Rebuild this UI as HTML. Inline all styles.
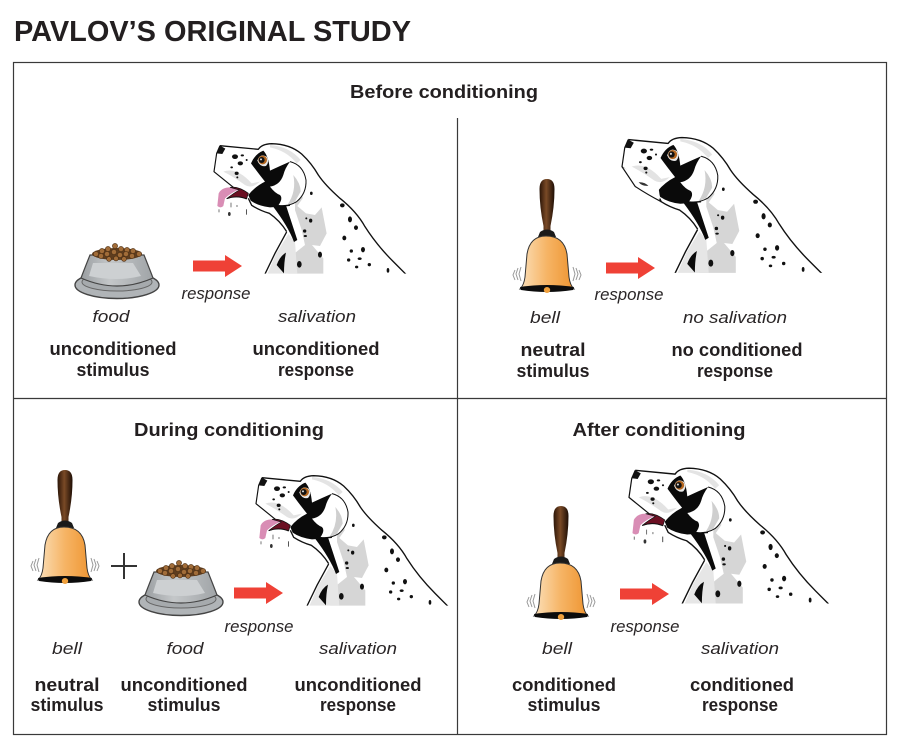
<!DOCTYPE html>
<html><head><meta charset="utf-8"><style>
html,body{margin:0;padding:0;background:#fff}
svg{display:block}
text{font-family:"Liberation Sans",sans-serif;fill:#231f20;text-anchor:middle}
.b{font-weight:bold;font-size:18px}
.i{font-style:italic;font-size:17px;fill:#2a2627}
</style></head><body>
<svg width="901" height="754" viewBox="0 0 901 754" xmlns="http://www.w3.org/2000/svg">
<defs>
<linearGradient id="bg" x1="0" x2="1"><stop offset="0" stop-color="#fbe0ba"/><stop offset=".5" stop-color="#f6b465"/><stop offset="1" stop-color="#ee9430"/></linearGradient>
<linearGradient id="hg" x1="0" x2="1"><stop offset="0" stop-color="#2a1508"/><stop offset=".45" stop-color="#7a4a26"/><stop offset="1" stop-color="#1e0e05"/></linearGradient>
<linearGradient id="bw" x1="0" x2="1"><stop offset="0" stop-color="#9a9ea1"/><stop offset=".4" stop-color="#c4c7c9"/><stop offset="1" stop-color="#a0a4a7"/></linearGradient>
<clipPath id="dc"><rect x="90" y="20" width="600" height="411"/></clipPath>

<g id="dog" clip-path="url(#dc)">
<path d="M120 47 L235 58 Q245 42 275 41 Q330 42 365 72 Q395 100 415 135 Q435 165 480 205 Q530 245 555 290 Q590 345 640 395 L680 435 L255 435 Q280 370 318 305 Q295 270 265 250 Q235 240 215 225 L205 200 L160 172 L102 125 L110 70Z" fill="#fff"/>
<path d="M345 135 Q365 160 368 205 L352 228 L378 250 L405 255 L425 232 L440 310 L420 348 L396 345 L430 385 L430 432 L325 432 L325 385 L375 345 L365 300 L345 240Z" fill="#d6d6d6"/>
<path d="M325 312 L345 335 L352 432 L262 432 L288 372Z" fill="#e6e6e6"/>
<path d="M130 125 Q170 110 215 160 L240 155 Q215 178 195 165 Q160 140 130 125Z" fill="#e3e3e3"/>
<path d="M270 45 Q330 50 362 90 L350 100 Q320 62 270 52Z" fill="#e4e4e4"/>
<path d="M255 432 L285 370 L320 306" fill="none" stroke="#111" stroke-width="4"/>
<path d="M120 47 L235 58 Q245 42 275 41 Q330 42 365 72 Q395 100 415 135 Q435 165 480 205 Q530 245 555 290 Q590 345 640 395 L680 435" fill="none" stroke="#111" stroke-width="4" stroke-linejoin="round"/>
<path d="M120 47 L110 70 L102 125 L160 172" fill="none" stroke="#111" stroke-width="3.5" stroke-linejoin="round"/>
<path d="M205 205 L215 226 Q240 242 268 250 Q300 272 320 305" fill="none" stroke="#111" stroke-width="4"/>
<path d="M120 47 L136 56 L127 72 L110 70Z" fill="#111"/>
<path d="M213 100 Q225 72 250 62 Q266 78 270 122 Q300 108 330 95 L320 150 L330 228 L270 232 Q235 228 212 212 L205 195 Q225 170 255 155 Q235 130 213 100Z" fill="#0a0a0a"/>
<path d="M330 95 Q370 105 378 150 Q380 190 350 215 Q325 230 295 226 Q310 205 300 195 Q285 190 270 170 Q300 165 310 135 Q315 115 330 95Z" fill="#fff"/>
<path d="M330 95 Q370 105 378 150 Q380 190 350 215 Q325 230 295 226" fill="none" stroke="#111" stroke-width="3"/>
<path d="M340 135 Q362 160 362 185 L345 215 L322 225 Q350 185 340 135Z" fill="#cfcfcf"/>
<path d="M232 92 Q240 68 260 80 Q270 95 258 108 Q240 112 232 92Z" fill="#e8e8e8"/>
<circle cx="248" cy="90" r="13" fill="#b4661e"/><circle cx="245" cy="90" r="9" fill="#111"/><circle cx="243" cy="88" r="3" fill="#ddd"/>
<path d="M278 228 L318 226 L352 330 L342 336 Q325 290 278 228Z" fill="#0a0a0a"/>
<path d="M318 368 Q300 378 290 405 L312 430 Q312 395 318 368Z" fill="#0a0a0a"/>
<g fill="#111">
<ellipse cx="165" cy="80" rx="9" ry="7"/><ellipse cx="181" cy="100" rx="8" ry="6"/><ellipse cx="187" cy="76" rx="5" ry="3"/><ellipse cx="155" cy="112" rx="4" ry="3"/><ellipse cx="170" cy="130" rx="6" ry="5"/><ellipse cx="172" cy="142" rx="3" ry="3"/><ellipse cx="200" cy="90" rx="3" ry="3"/>
<ellipse cx="394" cy="190" rx="4" ry="5"/><ellipse cx="487" cy="226" rx="7" ry="6"/><ellipse cx="510" cy="268" rx="6" ry="9"/><ellipse cx="528" cy="293" rx="6" ry="7"/><ellipse cx="493" cy="324" rx="6" ry="7"/><ellipse cx="549" cy="359" rx="6" ry="8"/><ellipse cx="514" cy="363" rx="5" ry="5"/><ellipse cx="506" cy="390" rx="5" ry="5"/><ellipse cx="539" cy="386" rx="6" ry="4"/><ellipse cx="568" cy="404" rx="5" ry="5"/><ellipse cx="530" cy="411" rx="5" ry="4"/><ellipse cx="624" cy="421" rx="4" ry="7"/><ellipse cx="420" cy="374" rx="6" ry="9"/><ellipse cx="358" cy="403" rx="7" ry="10"/><ellipse cx="392" cy="272" rx="5" ry="6"/><ellipse cx="379" cy="265" rx="3" ry="3"/><ellipse cx="374" cy="303" rx="5" ry="5"/><ellipse cx="376" cy="318" rx="5" ry="3"/>
</g>
</g>

<g id="mouth">
<path d="M150 172 Q125 172 116 190 L112 228 Q122 236 130 228 L135 205 Q150 190 178 178Z" fill="#d98db5"/>
<path d="M150 172 Q175 168 205 190 L200 206 Q170 195 140 206 Q160 190 178 180Z" fill="#6b0f22" stroke="#111" stroke-width="2"/>
<path d="M140 206 Q170 195 200 207" fill="none" stroke="#111" stroke-width="3"/>
<g fill="#333"><ellipse cx="148" cy="252" rx="4" ry="6"/><rect x="116" y="238" width="2" height="9"/><rect x="152" y="218" width="2" height="14"/><rect x="198" y="238" width="2.5" height="16"/><rect x="170" y="225" width="2" height="6"/></g>
</g>

<g id="closed">
<path d="M102 125 L140 182 L212 218 L208 190 L160 160Z" fill="#fff"/>
<path d="M102 125 L140 182 Q175 205 215 226" fill="none" stroke="#111" stroke-width="3.5"/>
<path d="M150 170 Q165 168 178 180 Q160 182 150 170Z" fill="#333"/>
</g>

<g id="bell">
<path d="M-7.5 -103 Q-7.5 -113 0 -113 Q7.5 -113 7.5 -103 Q7.5 -85 3.5 -66 L3.5 -60 L-3.5 -60 L-3.5 -66 Q-7.5 -85 -7.5 -103Z" fill="url(#hg)"/>
<path d="M-7 -60 Q0 -65 7 -60 L9 -55 L-9 -55Z" fill="#1a1a1a"/>
<path d="M-1 -56 Q17 -56 20 -38 L22 -15 Q23 -7 27 -3 L-27 -3 Q-23 -7 -22 -15 L-20 -38 Q-17 -56 -1 -56Z" fill="url(#bg)" stroke="#333" stroke-width="1"/>
<path d="M-27 -5 Q0 -9 27 -5 L26 -2 Q0 2 -26 -2Z" fill="#0c0c0c"/>
<ellipse cx="0" cy="-2" rx="3.2" ry="3" fill="#f0a03c"/>
<path d="M-26 -25 l-2 7 l2 7 M-29 -24 l-2 6 l2 6 M-32 -22 l-2 5 l2 5 M26 -25 l2 7 l-2 7 M29 -24 l2 6 l-2 6 M32 -22 l2 5 l-2 5" fill="none" stroke="#999" stroke-width="1"/>
</g>

<g id="bowl">
<ellipse cx="0" cy="27" rx="42" ry="13.5" fill="#b0b4b7" stroke="#444" stroke-width="1.4"/>
<ellipse cx="0" cy="24" rx="35" ry="9" fill="#a6aaad" stroke="#666" stroke-width="1"/>
<path d="M-27 -3 Q-33 12 -36 20 Q0 36 36 20 Q33 12 27 -3Z" fill="url(#bw)" stroke="#444" stroke-width="1.2"/>
<path d="M-24 5 L16 5 L24 18 Q0 24 -28 18Z" fill="#cdd0d2"/>
<ellipse cx="0" cy="-4" rx="25" ry="6" fill="#5f3d1e"/>
<g fill="#a16c38" stroke="#4c2f15" stroke-width=".6"><circle cx="-21" cy="-4" r="2.6"/><circle cx="-15" cy="-7" r="2.6"/><circle cx="-9" cy="-9" r="2.6"/><circle cx="-2" cy="-12" r="2.6"/><circle cx="4" cy="-9" r="2.6"/><circle cx="10" cy="-8" r="2.6"/><circle cx="16" cy="-7" r="2.6"/><circle cx="22" cy="-4" r="2.6"/><circle cx="-16" cy="-2" r="2.6"/><circle cx="-10" cy="-4" r="2.6"/><circle cx="-3" cy="-6" r="2.6"/><circle cx="3" cy="-3" r="2.6"/><circle cx="9" cy="-4" r="2.6"/><circle cx="15" cy="-2" r="2.6"/><circle cx="-1" cy="0.5" r="2.4"/><circle cx="-8" cy="1" r="2.4"/><circle cx="7" cy="1" r="2.4"/></g>
</g>

<path id="arrow" d="M0 -5.5 H32 V-11 L49 0 L32 11 V5.5 H0Z" fill="#ef4136"/>
</defs>

<text x="14" y="41" style="font-weight:bold;font-size:29px;text-anchor:start" textLength="397" lengthAdjust="spacingAndGlyphs">PAVLOV’S ORIGINAL STUDY</text>

<rect x="13.5" y="62.5" width="873" height="672" fill="none" stroke="#3a3a3a" stroke-width="1.2"/>
<path d="M13 398.5H887M457.5 118V735" stroke="#3a3a3a" stroke-width="1.2" fill="none"/>

<text class="b" x="444" y="98" textLength="188" lengthAdjust="spacingAndGlyphs">Before conditioning</text>
<text class="b" x="229" y="436" textLength="190" lengthAdjust="spacingAndGlyphs">During conditioning</text>
<text class="b" x="659" y="436" textLength="173" lengthAdjust="spacingAndGlyphs">After conditioning</text>

<g transform="translate(180,130) scale(.3333)"><use href="#dog"/><use href="#mouth"/></g>
<g transform="translate(586.6,123.3) scale(.347)"><use href="#dog"/><use href="#closed"/></g>
<g transform="translate(222,462) scale(.3333)"><use href="#dog"/><use href="#mouth"/></g>
<g transform="translate(593.6,454) scale(.347)"><use href="#dog"/><use href="#mouth"/></g>

<use href="#bell" transform="translate(547,292)"/>
<use href="#bell" transform="translate(65,583)"/>
<use href="#bell" transform="translate(561,619)"/>

<use href="#bowl" transform="translate(117,258)"/>
<use href="#bowl" transform="translate(181,575)"/>

<use href="#arrow" x="193" y="266"/>
<use href="#arrow" x="606" y="268"/>
<use href="#arrow" x="234" y="593"/>
<use href="#arrow" x="620" y="594"/>

<path d="M124 553V579M111 566H137" stroke="#333" stroke-width="2" fill="none"/>

<text class="i" x="216" y="299" textLength="69" lengthAdjust="spacingAndGlyphs">response</text>
<text class="i" x="111" y="322" textLength="37" lengthAdjust="spacingAndGlyphs">food</text>
<text class="i" x="317" y="322" textLength="78" lengthAdjust="spacingAndGlyphs">salivation</text>
<text class="i" x="629" y="300" textLength="69" lengthAdjust="spacingAndGlyphs">response</text>
<text class="i" x="545" y="323" textLength="30" lengthAdjust="spacingAndGlyphs">bell</text>
<text class="i" x="735" y="323" textLength="104" lengthAdjust="spacingAndGlyphs">no salivation</text>
<text class="i" x="259" y="632" textLength="69" lengthAdjust="spacingAndGlyphs">response</text>
<text class="i" x="67" y="654" textLength="30" lengthAdjust="spacingAndGlyphs">bell</text>
<text class="i" x="185" y="654" textLength="37" lengthAdjust="spacingAndGlyphs">food</text>
<text class="i" x="358" y="654" textLength="78" lengthAdjust="spacingAndGlyphs">salivation</text>
<text class="i" x="645" y="632" textLength="69" lengthAdjust="spacingAndGlyphs">response</text>
<text class="i" x="557" y="654" textLength="30" lengthAdjust="spacingAndGlyphs">bell</text>
<text class="i" x="740" y="654" textLength="78" lengthAdjust="spacingAndGlyphs">salivation</text>

<text class="b" x="113" y="355" textLength="127" lengthAdjust="spacingAndGlyphs">unconditioned</text>
<text class="b" x="113" y="376" textLength="73" lengthAdjust="spacingAndGlyphs">stimulus</text>
<text class="b" x="316" y="355" textLength="127" lengthAdjust="spacingAndGlyphs">unconditioned</text>
<text class="b" x="316" y="376" textLength="76" lengthAdjust="spacingAndGlyphs">response</text>
<text class="b" x="553" y="356" textLength="65" lengthAdjust="spacingAndGlyphs">neutral</text>
<text class="b" x="553" y="377" textLength="73" lengthAdjust="spacingAndGlyphs">stimulus</text>
<text class="b" x="737" y="356" textLength="131" lengthAdjust="spacingAndGlyphs">no conditioned</text>
<text class="b" x="735" y="377" textLength="76" lengthAdjust="spacingAndGlyphs">response</text>
<text class="b" x="67" y="691" textLength="65" lengthAdjust="spacingAndGlyphs">neutral</text>
<text class="b" x="67" y="711" textLength="73" lengthAdjust="spacingAndGlyphs">stimulus</text>
<text class="b" x="184" y="691" textLength="127" lengthAdjust="spacingAndGlyphs">unconditioned</text>
<text class="b" x="184" y="711" textLength="73" lengthAdjust="spacingAndGlyphs">stimulus</text>
<text class="b" x="358" y="691" textLength="127" lengthAdjust="spacingAndGlyphs">unconditioned</text>
<text class="b" x="358" y="711" textLength="76" lengthAdjust="spacingAndGlyphs">response</text>
<text class="b" x="564" y="691" textLength="104" lengthAdjust="spacingAndGlyphs">conditioned</text>
<text class="b" x="564" y="711" textLength="73" lengthAdjust="spacingAndGlyphs">stimulus</text>
<text class="b" x="742" y="691" textLength="104" lengthAdjust="spacingAndGlyphs">conditioned</text>
<text class="b" x="740" y="711" textLength="76" lengthAdjust="spacingAndGlyphs">response</text>
</svg>
</body></html>
